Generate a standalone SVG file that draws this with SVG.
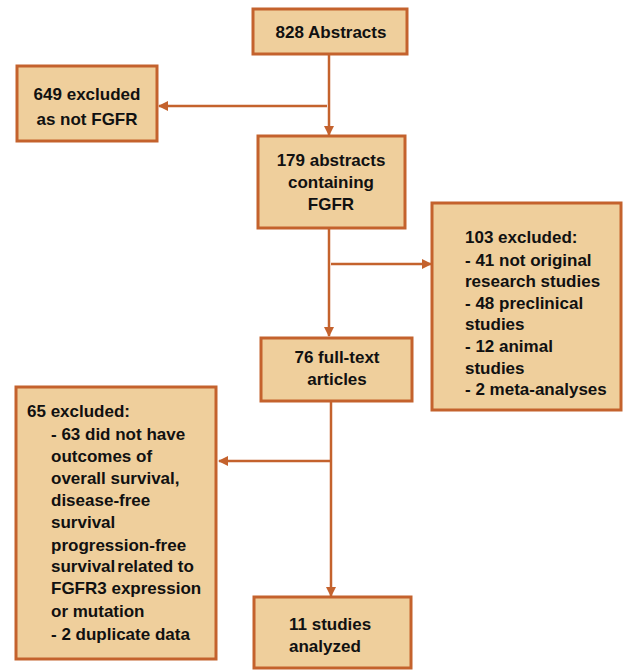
<svg xmlns="http://www.w3.org/2000/svg" width="623" height="670" viewBox="0 0 623 670">
<style>
.box{fill:#EFCF9C;stroke:#C4622D;stroke-width:3}
.ln{fill:none;stroke:#C4622D;stroke-width:2.5}
text{font-family:"Liberation Sans",Arial,sans-serif;font-weight:bold;font-size:17px;fill:#111}
.c{text-anchor:middle}
</style>
<defs>
<marker id="ah" viewBox="0 0 10 10" refX="9" refY="5" markerWidth="4" markerHeight="4" orient="auto" markerUnits="strokeWidth">
<path d="M0,0 L10,5 L0,10 z" fill="#C4622D"/>
</marker>
</defs>
<rect width="623" height="670" fill="#fff"/>
<g id="connectors">
<line class="ln" x1="329" y1="53" x2="329" y2="135" marker-end="url(#ah)"/>
<line class="ln" x1="327" y1="106" x2="159" y2="106" marker-end="url(#ah)"/>
<line class="ln" x1="329" y1="228" x2="329" y2="336" marker-end="url(#ah)"/>
<line class="ln" x1="331" y1="264" x2="431" y2="264" marker-end="url(#ah)"/>
<line class="ln" x1="331" y1="401" x2="331" y2="596" marker-end="url(#ah)"/>
<line class="ln" x1="331" y1="461" x2="219" y2="461" marker-end="url(#ah)"/>
</g>
<g id="n828">
<rect class="box" x="253" y="9" width="154" height="45"/>
<text class="c" x="331" y="38">828 Abstracts</text>
</g>
<g id="n649">
<rect class="box" x="17" y="66" width="140" height="75"/>
<text class="c" x="87" y="100">649 excluded</text>
<text class="c" x="87" y="125">as not FGFR</text>
</g>
<g id="n179">
<rect class="box" x="258" y="136" width="147" height="92"/>
<text class="c" x="331" y="166">179 abstracts</text>
<text class="c" x="331" y="188">containing</text>
<text class="c" x="331" y="210">FGFR</text>
</g>
<g id="n103">
<rect class="box" x="432" y="203" width="189" height="207"/>
<text x="465" y="243">103 excluded:</text>
<text x="465" y="266">- 41 not original</text>
<text x="465" y="287">research studies</text>
<text x="465" y="309">- 48 preclinical</text>
<text x="465" y="330">studies</text>
<text x="465" y="352">- 12 animal</text>
<text x="465" y="374">studies</text>
<text x="465" y="395">- 2 meta-analyses</text>
</g>
<g id="n76">
<rect class="box" x="261" y="338" width="151" height="63"/>
<text class="c" x="337" y="363">76 full-text</text>
<text class="c" x="337" y="385">articles</text>
</g>
<g id="n65">
<rect class="box" x="16" y="387" width="200" height="272"/>
<text x="27" y="417">65 excluded:</text>
<text x="51" y="440">- 63 did not have</text>
<text x="51" y="462">outcomes of</text>
<text x="51" y="484">overall survival,</text>
<text x="51" y="506">disease-free</text>
<text x="51" y="528">survival</text>
<text x="51" y="551">progression-free</text>
<text x="51" y="572">survival<tspan dx="2">related to</tspan></text>
<text x="51" y="594">FGFR3 expression</text>
<text x="51" y="617">or mutation</text>
<text x="51" y="640">- 2 duplicate data</text>
</g>
<g id="n11">
<rect class="box" x="254" y="597" width="157" height="71"/>
<text x="289" y="630">11 studies</text>
<text x="289" y="652">analyzed</text>
</g>
</svg>
